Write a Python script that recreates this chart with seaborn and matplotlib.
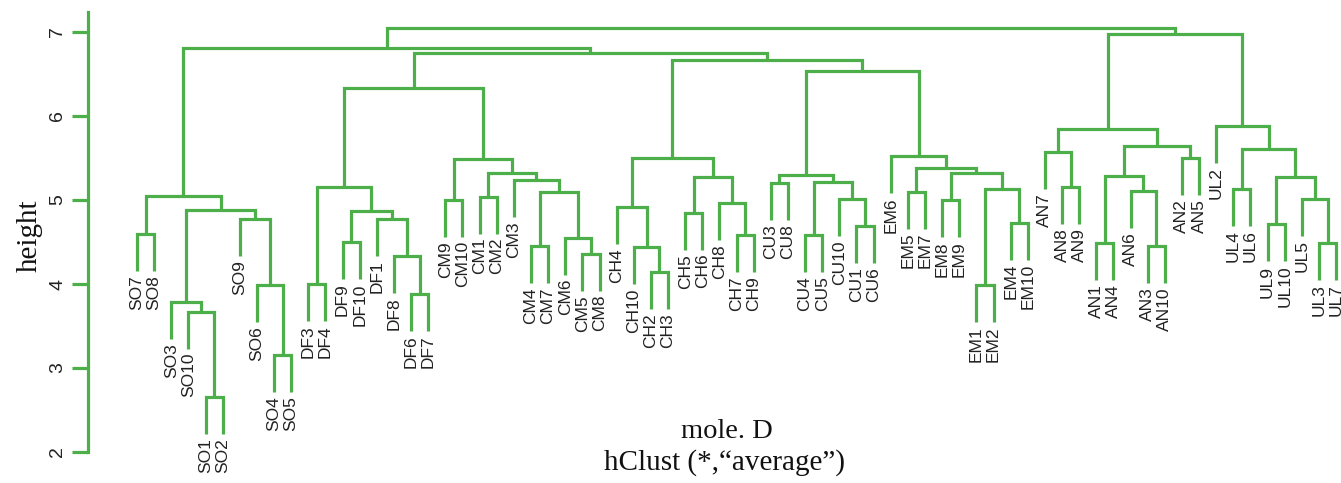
import numpy as np
import pandas as pd
import matplotlib
matplotlib.use("Agg")
import matplotlib.pyplot as plt
import seaborn as sns

# ---------------------------------------------------------------------------
# Dendrogram data: leaves left to right, then
# merges in R hclust style. A child is a leaf label (str) or a merge index.
# ---------------------------------------------------------------------------
leaf_labels = [
    "SO7", "SO8", "SO3", "SO10", "SO1", "SO2", "SO9", "SO6", "SO4", "SO5",
    "DF3", "DF4", "DF9", "DF10", "DF1", "DF8", "DF6", "DF7",
    "CM9", "CM10", "CM1", "CM2", "CM3", "CM4", "CM7", "CM6", "CM5", "CM8",
    "CH4", "CH10", "CH2", "CH3", "CH5", "CH6", "CH8", "CH7", "CH9",
    "CU3", "CU8", "CU4", "CU5", "CU10", "CU1", "CU6",
    "EM6", "EM5", "EM7", "EM8", "EM9", "EM1", "EM2", "EM4", "EM10",
    "AN7", "AN8", "AN9", "AN1", "AN4", "AN6", "AN3", "AN10", "AN2", "AN5",
    "UL2", "UL4", "UL6", "UL9", "UL10", "UL5", "UL3", "UL7",
]

merge_left = [
    "SO1", "SO10", "SO3", "SO4", "SO6", "SO9", 2, "SO7", 7,            # 0-8
    "DF3", "DF9", "DF6", "DF8", "DF1", 10, 9,                          # 9-15
    "CM9", "CM1", "CM4", "CM5", "CM6", 18, "CM3", 17, 16, 15,          # 16-25
    "CH2", "CH10", "CH4", "CH5", "CH7", "CH8", 29, 28,                 # 26-33
    "CU3", "CU4", "CU1", "CU10", 35, 34,                               # 34-39
    "EM5", "EM8", "EM1", "EM4", 42, 41, 40, "EM6", 39, 33, 25, 8,      # 40-51
    "AN8", "AN7", "AN1", "AN3", "AN6", 54, "AN2", 57, 53,              # 52-60
    "UL4", "UL9", "UL3", "UL5", 62, 61, "UL2", 60, 51,                 # 61-69
]
merge_right = [
    "SO2", 0, 1, "SO5", 3, 4, 5, "SO8", 6,
    "DF4", "DF10", "DF7", 11, 12, 13, 14,
    "CM10", "CM2", "CM7", "CM8", 19, 20, 21, 22, 23, 24,
    "CH3", 26, 27, "CH6", "CH9", 30, 31, 32,
    "CU8", "CU5", "CU6", 36, 37, 38,
    "EM7", "EM9", "EM2", "EM10", 43, 44, 45, 46, 47, 48, 49, 50,
    "AN9", 52, "AN4", "AN10", 55, 56, "AN5", 58, 59,
    "UL6", "UL10", "UL7", 63, 64, 65, 66, 67, 68,
]
merge_height = [
    2.65, 3.67, 3.79, 3.15, 3.99, 4.77, 4.88, 4.60, 5.05,
    4.00, 4.50, 3.88, 4.33, 4.77, 4.87, 5.16,
    5.00, 5.04, 4.45, 4.36, 4.55, 5.10, 5.24, 5.32, 5.49, 6.33,
    4.14, 4.44, 4.92, 4.85, 4.58, 4.96, 5.27, 5.50,
    5.20, 4.58, 4.69, 5.01, 5.21, 5.30,
    5.10, 5.00, 3.99, 4.73, 5.13, 5.32, 5.38, 5.52, 6.54, 6.67, 6.75, 6.81,
    5.15, 5.57, 4.49, 4.45, 5.11, 5.29, 5.50, 5.64, 5.85,
    5.13, 4.71, 4.49, 5.01, 5.27, 5.61, 5.88, 6.98, 7.05,
]

y_ticks = [2, 3, 4, 5, 6, 7]
HANG = 0.44
GREEN = "#4DAF4A"

# ---------------------------------------------------------------------------
# Build the dendrogram polylines
# ---------------------------------------------------------------------------
leaf_pos = {lab: i for i, lab in enumerate(leaf_labels)}
node_x = []
rows = []
leaf_bottom = {}
for k, (a, b, h) in enumerate(zip(merge_left, merge_right, merge_height)):
    pts = []
    for c in (a, b):
        if isinstance(c, str):
            x, y0 = leaf_pos[c], h - HANG
            leaf_bottom[c] = y0
        else:
            x, y0 = node_x[c], merge_height[c]
        pts.append((x, y0))
    node_x.append((pts[0][0] + pts[1][0]) / 2)
    path = [pts[0], (pts[0][0], h), (pts[1][0], h), pts[1]]
    for j, (x, y) in enumerate(path):
        rows.append({"merge": k, "order": j, "x": x, "y": y})
segs = pd.DataFrame(rows)

# ---------------------------------------------------------------------------
# Plot
# ---------------------------------------------------------------------------
sns.set_theme(style="white")
plt.rcParams["font.family"] = ["Liberation Sans", "DejaVu Sans"]

W, H = 1341, 483
fig = plt.figure(figsize=(W / 100, H / 100), dpi=100)
px_leaf0, px_step = 137, 17.13
ax_left = 88
ax = fig.add_axes([ax_left / W, 0, (W - ax_left) / W, 1])
ax.set_xlim((ax_left - px_leaf0) / px_step, (W - px_leaf0) / px_step)
ax.set_ylim(7 - (H - 32) / 84, 7 + 32 / 84)

sns.lineplot(data=segs, x="x", y="y", units="merge", estimator=None,
             sort=False, color=GREEN, linewidth=2.3, ax=ax,
             solid_joinstyle="miter", solid_capstyle="butt")

for lab in leaf_labels:
    ax.text(leaf_pos[lab], leaf_bottom[lab] - 0.05, lab, rotation=90,
            ha="center", va="top", fontsize=12.5, color="#222222")

for s in ["top", "right", "bottom"]:
    ax.spines[s].set_visible(False)
ax.spines["left"].set_color(GREEN)
ax.spines["left"].set_linewidth(2.3)
ax.spines["left"].set_bounds(2, 7.24)
ax.set_xticks([])
ax.set_yticks(y_ticks)
ax.set_yticklabels([str(t) for t in y_ticks])
ax.tick_params(axis="y", direction="out", length=11.5, width=2.3,
               color=GREEN, labelsize=14, labelcolor="#222222",
               labelrotation=90, pad=4, left=True)
for t in ax.get_yticklabels():
    t.set_va("center")
ax.set_xlabel("")
ax.set_ylabel("")

serif = ["Liberation Serif", "DejaVu Serif"]
fig.text(30 / W, 1 - 236 / H, "height", rotation=90, ha="center",
         va="center", fontsize=21, family=serif, color="#111111")
fig.text(727 / W, 1 - 432 / H, "mole. D", ha="center", va="center",
         fontsize=20.5, family=serif, color="#111111")
fig.text(725 / W, 1 - 463 / H, "hClust (*,\u201caverage\u201d)", ha="center",
         va="center", fontsize=21, family=serif, color="#111111")

fig.savefig("out.png", dpi=100)
plt.close(fig)
